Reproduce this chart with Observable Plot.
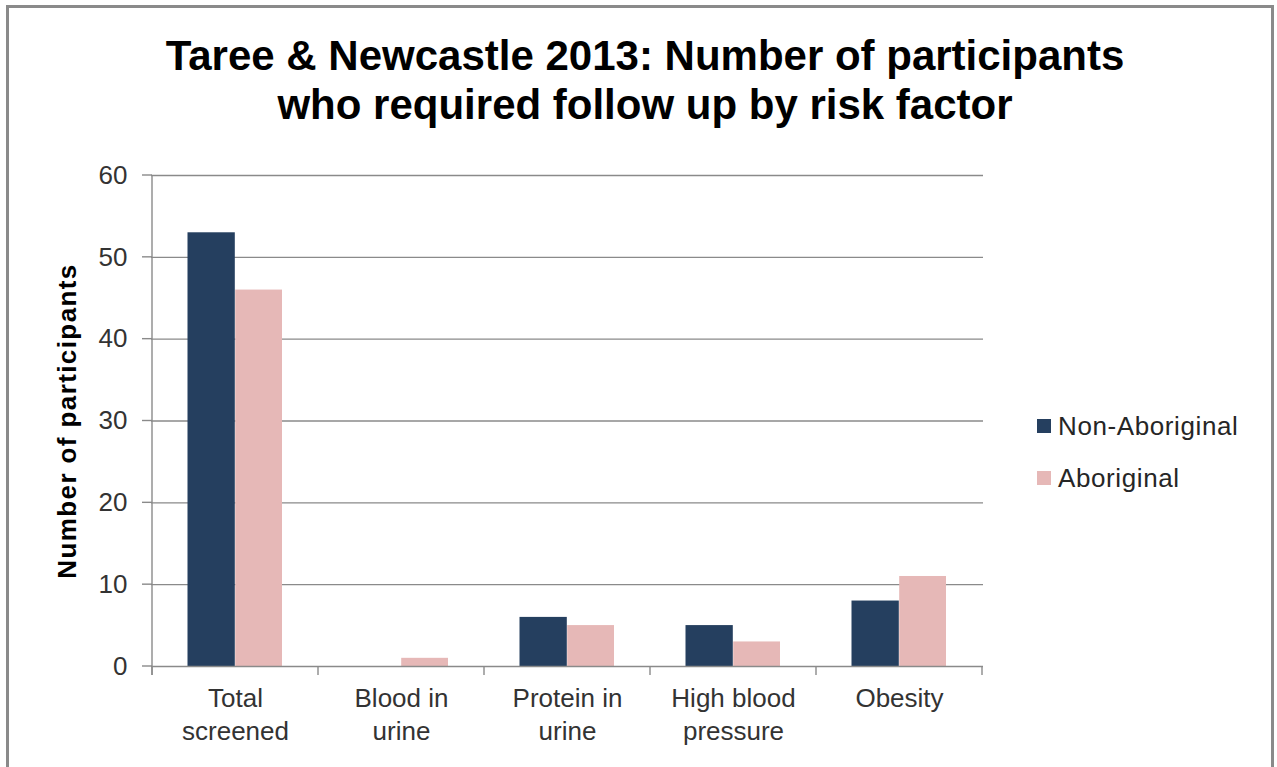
<!DOCTYPE html>
<html>
<head>
<meta charset="utf-8">
<script src="https://cdn.jsdelivr.net/npm/d3@7"></script>
<script src="https://cdn.jsdelivr.net/npm/@observablehq/plot@0.6"></script>
<style>
html, body { margin: 0; padding: 0; background: #fff; }
body { width: 1277px; height: 767px; overflow: hidden; position: relative; font-family: "Liberation Sans", Arial, sans-serif; }
#frame { position: absolute; left: 6px; top: 5px; width: 1268px; height: 820px; border: 3px solid #8a8a8a; box-sizing: border-box; pointer-events: none; }
#title { position: relative; width: 1277px; height: 150px; box-sizing: border-box; padding-top: 31px; padding-left: 13px; text-align: center; font-weight: bold; font-size: 42px; line-height: 49px; color: #000; }
#chart svg { display: block; }
#legend { position: absolute; left: 1037px; top: 400px; font-size: 26px; color: #262626; letter-spacing: 0.6px; }
.item { display: flex; align-items: center; height: 52px; }
.sw { width: 14px; height: 14px; margin-right: 7px; }
</style>
</head>
<body>
<div id="title">Taree &amp; Newcastle 2013: Number of participants<br>who required follow up by risk factor</div>
<div id="chart"></div>
<div id="legend"></div>
<div id="frame"></div>
<script>
const categories = ["Total screened", "Blood in urine", "Protein in urine", "High blood pressure", "Obesity"];
const categoryLabels = ["Total\nscreened", "Blood in\nurine", "Protein in\nurine", "High blood\npressure", "Obesity"];
const series = ["Non-Aboriginal", "Aboriginal"];
const nonAboriginal = [53, 0, 6, 5, 8];
const aboriginal = [46, 1, 5, 3, 11];
const yTicks = [0, 10, 20, 30, 40, 50, 60];
const yLabel = "Number of participants";
const colors = ["#253F5F", "#E6B8B7"];

const data = [];
categories.forEach((c, i) => {
  data.push({category: c, series: series[0], value: nonAboriginal[i]});
  data.push({category: c, series: series[1], value: aboriginal[i]});
});
const labelRows = categories.map((c, i) => ({category: c, label: categoryLabels[i]}));

const axisColor = "#8a8a8a";

// Axis lines and ticks (y axis line, y ticks, category boundary ticks)
function axisDecorations(index, scales, values, dimensions) {
  const x = scales.x, y = scales.y;
  const bw = typeof x.bandwidth === "function" ? x.bandwidth() : x.bandwidth;
  const y0 = y(0);
  const g = d3.create("svg:g").attr("stroke", axisColor).attr("stroke-width", 1.4).attr("fill", "none");
  const edges = categories.map(c => x(c)).concat([x(categories[categories.length - 1]) + bw]);
  const left = edges[0];
  g.append("line").attr("x1", left).attr("x2", left).attr("y1", y(yTicks[yTicks.length - 1])).attr("y2", y0 + 9);
  for (const e of edges) {
    g.append("line").attr("x1", e).attr("x2", e).attr("y1", y0).attr("y2", y0 + 9);
  }
  for (const t of yTicks) {
    g.append("line").attr("x1", left - 10).attr("x2", left).attr("y1", y(t)).attr("y2", y(t));
  }
  return g.node();
}

const plot = Plot.plot({
  width: 1277,
  height: 617,
  marginLeft: 151,
  marginRight: 294,
  marginTop: 25,
  marginBottom: 101,
  style: {fontFamily: "'Liberation Sans', Arial, sans-serif", fontSize: "26px", color: "#333", background: "transparent"},
  x: {domain: categories, padding: 0, axis: null},
  y: {domain: [0, 60], axis: null},
  color: {domain: series, range: colors},
  marks: [
    Plot.ruleY(yTicks.filter(t => t !== 0), {stroke: axisColor, strokeWidth: 1.4}),
    Plot.barY(data.filter(d => d.series === series[0]), {x: "category", y: "value", fill: "series", insetLeft: 35.5, insetRight: 83.2}),
    Plot.barY(data.filter(d => d.series === series[1]), {x: "category", y: "value", fill: "series", insetLeft: 83.2, insetRight: 36}),
    Plot.ruleY([0], {stroke: axisColor, strokeWidth: 1.4}),
    axisDecorations,
    Plot.text(yTicks, {y: d => d, text: d => String(d), frameAnchor: "left", dx: -24, textAnchor: "end", fill: "#333", fontSize: 26}),
    Plot.text(labelRows, {x: "category", y: () => 0, text: "label", dy: 17, lineAnchor: "top", lineHeight: 1.26, fill: "#333", fontSize: 26}),
    Plot.text([yLabel], {text: d => d, frameAnchor: "left", textAnchor: "middle", rotate: -90, dx: -84, fontWeight: "bold", fontSize: 26, fill: "#000"})
  ]
});
d3.select(plot).selectAll("text").filter(function() { return this.textContent === yLabel; }).style("letter-spacing", "1.4px");
document.getElementById("chart").appendChild(plot);

// Legend from the plot's color scale
const cs = plot.scale("color");
const legend = document.getElementById("legend");
cs.domain.forEach((name, i) => {
  const item = document.createElement("div");
  item.className = "item";
  const sw = document.createElement("div");
  sw.className = "sw";
  sw.style.background = cs.range[i];
  const label = document.createElement("span");
  label.textContent = name;
  item.appendChild(sw);
  item.appendChild(label);
  legend.appendChild(item);
});
</script>
</body>
</html>
